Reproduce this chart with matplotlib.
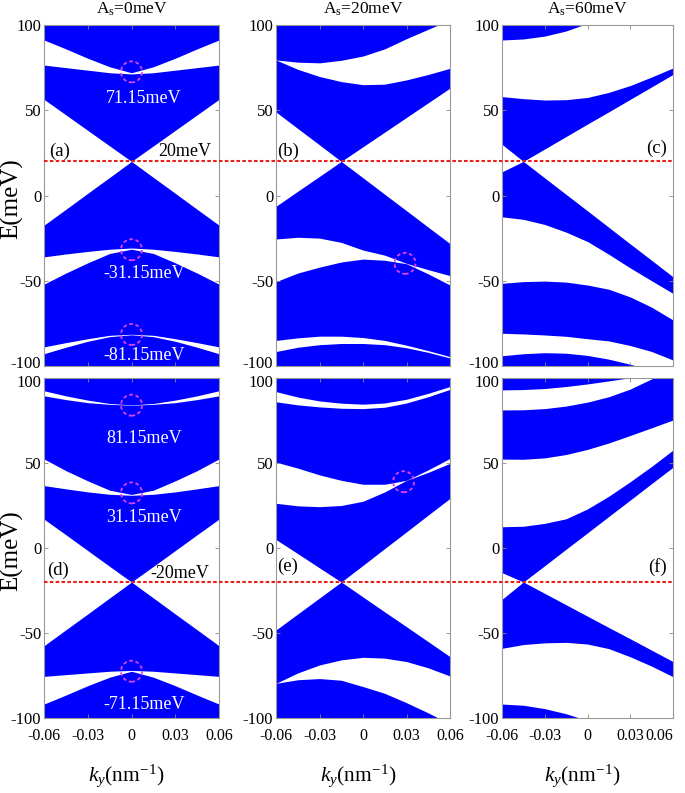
import numpy as np
import matplotlib.pyplot as plt
from matplotlib.patches import Ellipse
from matplotlib.transforms import ScaledTranslation

# Times-like look (MATLAB export)
plt.rcParams['font.family'] = ['Liberation Serif', 'DejaVu Serif']
plt.rcParams['mathtext.fontset'] = 'custom'
plt.rcParams['mathtext.rm'] = 'Liberation Serif'
plt.rcParams['mathtext.it'] = 'Liberation Serif:italic'
plt.rcParams['axes.unicode_minus'] = False

nan = np.nan

#%% band edges (meV) at these ky values (nm^-1)
ky = [-0.06, -0.045, -0.03, -0.015, 0.0, 0.015, 0.03, 0.045, 0.06]

# (a) As=0, Ez=+20
a_gap1_hi = [91.2, 86.0, 80.5, 75.5, 72.0, 75.5, 80.5, 86.0, 91.2]
a_gap1_lo = [76.5, 75.0, 73.5, 72.0, 71.3, 72.0, 73.5, 75.0, 76.5]
a_cone_hi = [56.4, 47.3, 38.2, 29.1, 20.0, 29.1, 38.2, 47.3, 56.4]
a_cone_lo = [-17.4, -8.1, 1.3, 10.6, 20.0, 10.6, 1.3, -8.1, -17.4]
a_gap2_hi = [-36.0, -34.3, -32.8, -31.5, -30.8, -31.5, -32.8, -34.3, -36.0]
a_gap2_lo = [-52.0, -45.5, -39.5, -34.0, -31.5, -34.0, -39.5, -45.5, -52.0]
a_gap3_hi = [-88.8, -86.3, -84.0, -82.0, -81.4, -82.0, -84.0, -86.3, -88.8]
a_gap3_lo = [-92.8, -89.0, -85.5, -82.8, -81.7, -82.8, -85.5, -89.0, -92.8]

# (b) As=20
b_gap1_hi = [79.5, 78.2, 77.8, 79.3, 81.8, 86.0, 92.0, 97.5, 103.0]
b_gap1_lo = [79.5, 74.0, 69.8, 66.8, 65.0, 65.3, 67.8, 71.0, 74.6]
b_cone_hi = [49.0, 39.3, 29.7, 20.0, 28.6, 37.2, 45.8, 54.4, 63.0]
b_cone_lo = [-6.3, 2.5, 11.2, 20.0, 10.4, 0.7, -8.9, -18.6, -28.2]
b_gap2_hi = [-25.5, -24.5, -25.0, -27.5, -32.0, -35.0, -39.8, -43.5, -47.0]
b_gap2_lo = [-50.5, -45.5, -42.0, -39.0, -37.3, -38.0, -40.0, -46.0, -52.5]
b_gap3_hi = [-85.0, -83.5, -82.5, -82.5, -83.3, -85.0, -87.8, -91.0, -94.5]
b_gap3_lo = [-91.5, -89.0, -87.5, -86.8, -86.8, -87.5, -89.3, -92.0, -95.3]

# (c) As=60
c_gap1_hi = [91.2, 91.8, 93.5, 96.5, 101.0, 106.0, nan, nan, nan]
c_band1_hi = [58.0, 56.8, 56.0, 56.2, 57.5, 60.5, 64.5, 69.5, 74.8]
c_cone_hi = [30.0, 20.0, 27.3, 34.6, 41.9, 49.1, 56.4, 63.7, 71.0]
c_cone_lo = [13.9, 20.0, 10.3, 0.65, -9.0, -18.7, -28.4, -38.0, -47.7]
c_band2_lo = [-12.5, -14.0, -17.0, -21.5, -27.0, -34.5, -42.5, -50.0, -57.4]
c_band3_hi = [-51.5, -50.5, -50.2, -50.8, -52.5, -55.0, -59.5, -65.5, -73.0]
c_band3_lo = [-80.8, -81.2, -81.8, -82.6, -84.0, -85.3, -88.0, -91.5, -96.5]
c_band4_hi = [-94.0, -92.8, -92.2, -92.5, -93.8, -96.0, -99.0, -102.5, nan]

# (d) As=0, Ez=-20
d_gap1_hi = [92.5, 89.5, 87.0, 85.0, 84.2, 85.0, 87.0, 89.5, 92.5]
d_gap1_lo = [89.5, 87.3, 85.5, 84.5, 84.0, 84.5, 85.5, 87.3, 89.5]
d_gap2_hi = [52.4, 45.5, 39.5, 34.0, 31.5, 34.0, 39.5, 45.5, 52.4]
d_gap2_lo = [36.7, 34.8, 33.0, 31.6, 31.0, 31.6, 33.0, 34.8, 36.7]
d_cone_hi = [17.0, 7.8, -1.5, -10.8, -20.0, -10.8, -1.5, 7.8, 17.0]
d_cone_lo = [-57.5, -48.1, -38.8, -29.4, -20.0, -29.4, -38.8, -48.1, -57.5]
d_gap3_hi = [-75.5, -74.5, -73.5, -72.5, -72.0, -72.5, -73.5, -74.5, -75.5]
d_gap3_lo = [-91.8, -86.5, -81.0, -76.0, -72.5, -76.0, -81.0, -86.5, -91.8]

# (e)
e_gap1_hi = [92.0, 88.8, 86.5, 85.2, 84.6, 85.3, 87.5, 91.0, 95.0]
e_gap1_lo = [86.0, 84.2, 83.0, 82.2, 82.0, 82.8, 85.3, 89.0, 93.3]
e_gap2_hi = [50.5, 47.0, 43.0, 39.8, 37.5, 37.5, 39.8, 46.0, 52.7]
e_gap2_lo = [26.3, 24.8, 24.3, 25.0, 27.5, 33.0, 39.8, 44.5, 49.8]
e_cone_hi = [5.0, -3.3, -11.7, -20.0, -10.2, -0.3, 9.5, 19.4, 29.2]
e_cone_lo = [-48.2, -38.8, -29.4, -20.0, -28.8, -37.6, -46.3, -55.1, -63.9]
e_gap3_hi = [-79.6, -73.5, -68.8, -65.8, -64.3, -64.8, -66.8, -70.5, -75.3]
e_gap3_lo = [-79.6, -77.5, -76.8, -77.8, -81.5, -85.5, -91.0, -97.0, -103.5]

# (f)
f_gap1_hi = [93.0, 93.2, 93.8, 95.0, 96.5, 98.3, 100.2, 102.5, 105.0]
f_gap1_lo = [81.2, 81.3, 82.0, 83.5, 85.8, 89.0, 93.5, 99.5, 106.0]
f_band2_lo = [52.3, 52.2, 53.0, 55.0, 58.0, 61.8, 66.2, 70.7, 75.3]
f_band3_hi = [12.5, 12.8, 14.5, 17.2, 23.0, 30.5, 39.0, 48.0, 57.6]
f_cone_hi = [-14.5, -20.0, -10.4, -0.7, 8.9, 18.6, 28.2, 37.9, 47.5]
f_cone_lo = [-30.2, -20.0, -26.7, -33.4, -40.1, -46.8, -53.4, -60.1, -66.8]
f_band4_lo = [-59.0, -56.8, -55.8, -55.5, -56.5, -59.2, -64.0, -69.5, -75.7]
f_band5_hi = [-91.8, -92.5, -94.5, -97.5, -101.5, nan, nan, nan, nan]

# blue regions as (lower edge, upper edge)
bands = {
    'a': [(a_gap1_hi, 100), (a_cone_hi, a_gap1_lo), (a_gap2_hi, a_cone_lo),
          (a_gap3_hi, a_gap2_lo), (-100, a_gap3_lo)],
    'b': [(b_gap1_hi, 100), (b_cone_hi, b_gap1_lo), (b_gap2_hi, b_cone_lo),
          (b_gap3_hi, b_gap2_lo), (-100, b_gap3_lo)],
    'c': [(c_gap1_hi, 100), (c_cone_hi, c_band1_hi), (c_band2_lo, c_cone_lo),
          (c_band3_lo, c_band3_hi), (-100, c_band4_hi)],
    'd': [(d_gap1_hi, 100), (d_gap2_hi, d_gap1_lo), (d_cone_hi, d_gap2_lo),
          (d_gap3_hi, d_cone_lo), (-100, d_gap3_lo)],
    'e': [(e_gap1_hi, 100), (e_gap2_hi, e_gap1_lo), (e_cone_hi, e_gap2_lo),
          (e_gap3_hi, e_cone_lo), (-100, e_gap3_lo)],
    'f': [(f_gap1_hi, 100), (f_band2_lo, f_gap1_lo), (f_cone_hi, f_band3_hi),
          (f_band4_lo, f_cone_lo), (-100, f_band5_hi)],
}

# dashed circles marking the gap (anti)crossings
circles = {'a': [(0, 72.5), (0, -31.8), (0, -81.5)],
           'b': [(0.029, -39.8)],
           'd': [(0, 84.0), (0, 32.4), (0, -72.5)],
           'e': [(0.028, 39.0)]}
gap_labels = {'a': [(56.6, '71.15meV'), (-45.5, '-31.15meV'), (-94.1, '-81.15meV')],
              'd': [(64.7, '81.15meV'), (18.2, '31.15meV'), (-91.8, '-71.15meV')]}
panel_tags = {'a': (-0.049, 25.7), 'b': (-0.0517, 25.7), 'c': (0.0486, 27.7),
              'd': (-0.0502, -12.9), 'e': (-0.0517, -11.0), 'f': (0.049, -11.0)}
col_titles = [r'A$_\mathrm{s}$=0meV', r'A$_\mathrm{s}$=20meV', r'A$_\mathrm{s}$=60meV']
xticks = [-0.06, -0.03, 0, 0.03, 0.06]
xticklabels = ['-0.06', '-0.03', '0', '0.03', '0.06']
yticks = [100, 50, 0, -50, -100]
yticklabels = ['100', '50', '0', '-50', '-100']

#%% figure
W, H = 685, 793
fig = plt.figure(figsize=(W / 100, H / 100), dpi=100)
lefts = [44, 276, 502]
widths = [175, 174, 171]
rows = [(25, 366), (378, 718)]
names = [['a', 'b', 'c'], ['d', 'e', 'f']]
axs = {}

for r, (top, bot) in enumerate(rows):
    for c in range(3):
        key = names[r][c]
        ax = fig.add_axes([lefts[c] / W, 1 - bot / H, widths[c] / W, (bot - top) / H])
        axs[key] = ax
        for lo, hi in bands[key]:
            ax.fill_between(ky, lo, hi, color='#0000FF', lw=0)
        ax.set_xlim(-0.06, 0.06)
        ax.set_ylim(-100, 100)
        ax.set_xticks(xticks)
        ax.set_yticks(yticks)
        ax.set_yticklabels(yticklabels)
        ax.tick_params(direction='in', top=True, right=True, length=3,
                       width=0.6, color='#888888', labelsize=12, pad=2)
        if r == 1:
            ax.set_xticklabels(xticklabels)
            ax.tick_params(axis='x', pad=7, labelsize=11.5)
            ax.text(0.47, -0.171, r'$k_y$(nm$^{\mathrm{-1}}$)', transform=ax.transAxes,
                    ha='center', va='center', fontsize=15.5)
            # nudge the "100" label down a little, away from the row above
            lab = ax.get_yticklabels()[0]
            lab.set_transform(lab.get_transform() + ScaledTranslation(0, -2 / 72, fig.dpi_scale_trans))
        else:
            ax.tick_params(axis='x', labelbottom=False)
            ax.text(0.5, 1.045, col_titles[c], transform=ax.transAxes,
                    ha='center', va='center', fontsize=12.5)
            # nudge the "-100" label up a little
            lab = ax.get_yticklabels()[-1]
            lab.set_transform(lab.get_transform() + ScaledTranslation(0, 3 / 72, fig.dpi_scale_trans))
        for s in ax.spines.values():
            s.set_color('#999999')
            s.set_linewidth(0.8)

        h_e = 21 / ((bot - top) / 200.0)
        w_k = 21 / widths[c] * 0.12
        for (cx, cy) in circles.get(key, []):
            ax.add_patch(Ellipse((cx, cy), w_k, h_e, fill=False, ec='#DD44EE',
                                 lw=1.3, ls=(0, (2.0, 1.5)), zorder=5))
        for (ty, txt) in gap_labels.get(key, []):
            ax.text(0.0085, ty, txt, color='white', ha='center', va='center', fontsize=13)
        tx, tyy = panel_tags[key]
        ax.text(tx, tyy, '(%s)' % key, ha='center', va='center', fontsize=13.5)

# keep the last tick label of (f) inside the figure
axs['f'].get_xticklabels()[-1].set_ha('right')

axs['a'].text(0.0367, 25.7, '20meV', ha='center', va='center', fontsize=13)
axs['d'].text(0.0333, -14.9, '-20meV', ha='center', va='center', fontsize=13)

# red dashed Ez lines across each row, drawn from the last panel so they sit on top
axs['c'].axhline(20, xmin=(44 - 502) / 171, xmax=1, color='#E8201A', lw=1.5,
                 ls=(0, (1.7, 1.1)), clip_on=False, zorder=10)
axs['f'].axhline(-20, xmin=(44 - 502) / 171, xmax=1, color='#E8201A', lw=1.5,
                 ls=(0, (1.7, 1.1)), clip_on=False, zorder=10)

fig.text(12 / W, 1 - 199 / H, 'E(meV)', rotation=90, ha='center', va='center', fontsize=18)
fig.text(12 / W, 1 - 551 / H, 'E(meV)', rotation=90, ha='center', va='center', fontsize=18)

fig.savefig('out.png', dpi=100)
